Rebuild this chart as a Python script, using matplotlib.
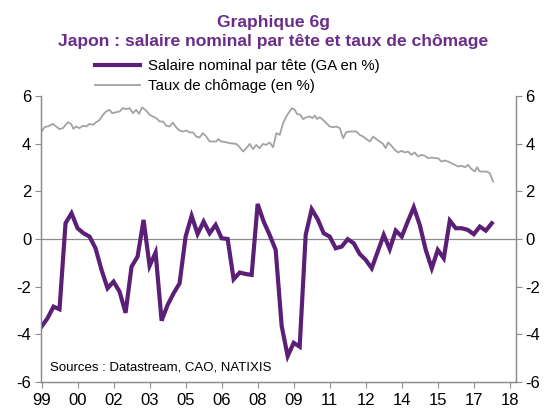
"""
Japon : salaire nominal par tete (GA en %) et taux de chomage
"""

import numpy as np
import matplotlib
matplotlib.use('Agg')
import matplotlib.pyplot as plt

plt.rcParams['font.family'] = ['Liberation Sans', 'DejaVu Sans']
plt.rcParams['axes.unicode_minus'] = False

# salaire nominal par tete, GA en %, trimestriel de 1999T1 a 2017T4
salaire = [
    -3.68, -3.33, -2.84, -2.95,   # 1999
    0.66, 1.08, 0.45, 0.24,       # 2000
    0.10, -0.39, -1.30, -2.07,    # 2001
    -1.79, -2.21, -3.10, -1.16,   # 2002
    -0.74, 0.80, -1.13, -0.57,    # 2003
    -3.43, -2.77, -2.28, -1.86,   # 2004
    0.10, 0.97, 0.21, 0.73,       # 2005
    0.24, 0.59, 0.03, 0.00,       # 2006
    -1.69, -1.41, -1.47, -1.51,   # 2007
    1.47, 0.73, 0.17, -0.46,      # 2008
    -3.65, -4.92, -4.36, -4.52,   # 2009
    0.17, 1.25, 0.83, 0.24,       # 2010
    0.10, -0.39, -0.32, -0.01,    # 2011
    -0.18, -0.63, -0.88, -1.23,   # 2012
    -0.53, 0.17, -0.43, 0.35,     # 2013
    0.10, 0.73, 1.33, 0.59,       # 2014
    -0.46, -1.23, -0.46, -0.81,   # 2015
    0.77, 0.45, 0.45, 0.38,       # 2016
    0.20, 0.52, 0.35, 0.66,       # 2017
]
salaire_t = 1999 + 0.25 * np.arange(len(salaire))

# taux de chomage (en %), dates en annees decimales
chomage_t = [
    1999.00, 1999.13, 1999.33, 1999.47, 1999.61, 1999.75, 1999.89,
    2000.10, 2000.24, 2000.33, 2000.44, 2000.58, 2000.72, 2000.86,
    2001.00, 2001.14, 2001.28, 2001.42, 2001.56, 2001.69, 2001.83, 2001.94,
    2002.11, 2002.25, 2002.39, 2002.53, 2002.67, 2002.81, 2002.94,
    2003.06, 2003.19, 2003.36, 2003.50, 2003.64, 2003.78, 2003.92,
    2004.06, 2004.19, 2004.33, 2004.47, 2004.61, 2004.75, 2004.89,
    2005.03, 2005.17, 2005.31, 2005.44, 2005.58, 2005.72, 2005.86,
    2006.00, 2006.14, 2006.28, 2006.35, 2006.49, 2006.69, 2006.83,
    2007.11, 2007.25, 2007.39, 2007.53, 2007.67, 2007.81, 2007.94,
    2008.08, 2008.22, 2008.36, 2008.50, 2008.64, 2008.78, 2008.92,
    2009.06, 2009.19, 2009.33, 2009.43, 2009.54, 2009.64, 2009.78, 2009.89,
    2010.03, 2010.17, 2010.28, 2010.38, 2010.47, 2010.58, 2010.72, 2010.86,
    2011.00, 2011.14, 2011.28, 2011.42, 2011.56, 2011.69, 2011.83, 2011.97,
    2012.11, 2012.25, 2012.39, 2012.53, 2012.67, 2012.81, 2012.94,
    2013.08, 2013.22, 2013.33, 2013.43, 2013.57, 2013.71, 2013.85, 2013.99,
    2014.13, 2014.26, 2014.40, 2014.54, 2014.68, 2014.82, 2014.96,
    2015.10, 2015.24, 2015.38, 2015.51, 2015.65, 2015.79, 2015.93,
    2016.07, 2016.21, 2016.35, 2016.49, 2016.63, 2016.76, 2016.90,
    2017.04, 2017.14, 2017.25, 2017.39, 2017.53, 2017.67, 2017.80,
]
chomage = [
    4.51, 4.69, 4.75, 4.83, 4.72, 4.61, 4.65,
    4.90, 4.82, 4.62, 4.72, 4.65, 4.75, 4.72,
    4.83, 4.79, 4.90, 5.00, 5.21, 5.35, 5.42, 5.28,
    5.32, 5.35, 5.49, 5.45, 5.49, 5.28, 5.42,
    5.25, 5.52, 5.39, 5.21, 5.14, 5.07, 4.93,
    4.93, 4.75, 4.72, 4.88, 4.68, 4.55, 4.51,
    4.55, 4.47, 4.47, 4.30, 4.26, 4.44, 4.30,
    4.09, 4.09, 4.09, 4.19, 4.09, 4.06, 4.02,
    3.99, 3.85, 3.67, 3.81, 3.99, 3.77, 3.95,
    3.81, 3.99, 3.95, 4.05, 3.85, 4.44, 4.37,
    4.86, 5.14, 5.35, 5.49, 5.42, 5.25, 5.21, 5.03,
    5.11, 5.14, 5.07, 5.18, 5.03, 5.11, 5.00, 4.86,
    4.72, 4.69, 4.72, 4.65, 4.23, 4.48, 4.51, 4.51,
    4.51, 4.37, 4.30, 4.19, 4.09, 4.30, 4.19,
    4.09, 3.99, 3.81, 4.05, 3.91, 3.74, 3.63, 3.70,
    3.63, 3.67, 3.53, 3.63, 3.46, 3.53, 3.49,
    3.39, 3.42, 3.39, 3.39, 3.25, 3.29, 3.25,
    3.18, 3.11, 3.04, 3.07, 3.01, 3.11, 2.94,
    2.83, 3.01, 2.83, 2.83, 2.83, 2.76, 2.41,
]

# axe des x : un repere tous les 18 mois
x_ticks = [1999 + 1.5 * k for k in range(14)]
x_labels = ['99', '00', '02', '03', '05', '06', '08', '09',
            '11', '12', '14', '15', '17', '18']
y_ticks = [-6, -4, -2, 0, 2, 4, 6]

violet = '#5B1F78'
violet_titre = '#6B2D8A'
gris = '#A3A3A3'
gris_axe = '#8C8C8C'

fig = plt.figure(figsize=(5.47, 4.12), dpi=100)
ax = fig.add_axes([0.075, 0.073, 0.868, 0.694])
ax2 = ax.twinx()

ax.axhline(0, color=gris_axe, linewidth=0.9, zorder=1)
l2, = ax2.plot(chomage_t, chomage, color=gris, linewidth=1.3,
               label='Taux de chômage (en %)')
l1, = ax.plot(salaire_t, salaire, color=violet, linewidth=3.0,
              solid_joinstyle='miter', label='Salaire nominal par tête (GA en %)')
ax.set_zorder(ax2.get_zorder() + 1)
ax.patch.set_visible(False)

for a in (ax, ax2):
    a.set_xlim(1998.98, 2018.75)
    a.set_ylim(-6, 6)
    a.set_yticks(y_ticks)
    a.tick_params(axis='both', direction='out', length=4, width=0.8,
                  color=gris_axe, labelsize=12, pad=3)
    a.spines['top'].set_visible(False)
    for s in ('left', 'right', 'bottom'):
        a.spines[s].set_color(gris_axe)
        a.spines[s].set_linewidth(0.9)

ax.set_xticks(x_ticks)
ax.set_xticklabels(x_labels)
ax.tick_params(axis='x', pad=4)

fig.text(0.5, 1 - 26.5 / 412, 'Graphique 6g', ha='center', va='baseline',
         fontsize=12.6, fontweight='bold', color=violet_titre)
fig.text(0.5, 1 - 46 / 412, 'Japon : salaire nominal par tête et taux de chômage',
         ha='center', va='baseline', fontsize=12.6, fontweight='bold', color=violet_titre)

fig.legend(handles=[l1, l2], loc='upper left', bbox_to_anchor=(0.174, 0.856),
           frameon=False, fontsize=10.8, handlelength=3.0, handletextpad=0.49,
           borderpad=0, borderaxespad=0, labelspacing=0.4)

ax.text(50 / 547, 1 - 368 / 412, 'Sources : Datastream, CAO, NATIXIS',
        transform=fig.transFigure, fontsize=9.5, va='center', ha='left')

fig.savefig('out.png', dpi=100)
